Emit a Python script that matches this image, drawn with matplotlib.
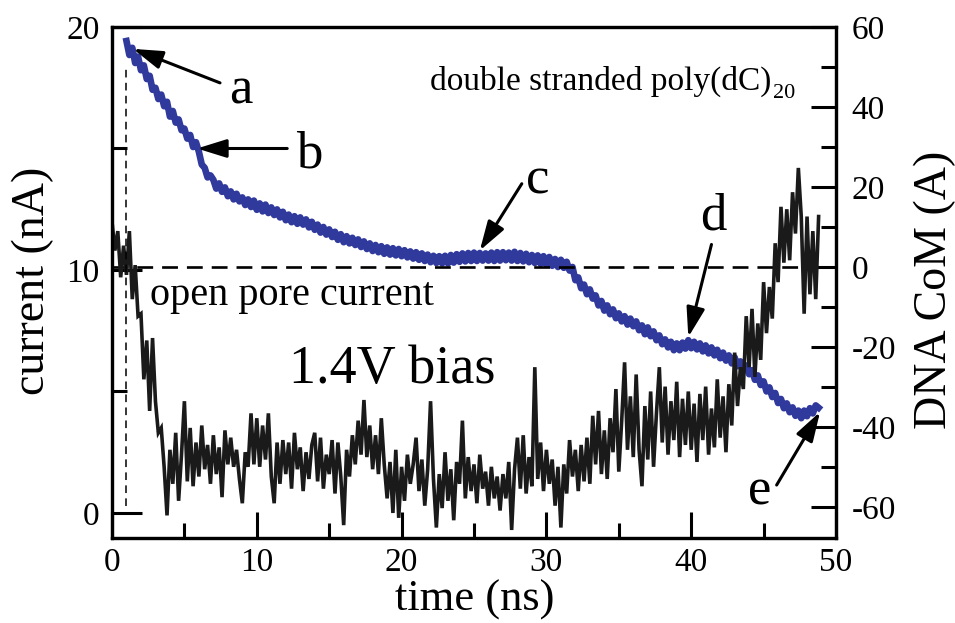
import matplotlib
matplotlib.use("Agg")
import matplotlib.pyplot as plt
import numpy as np

plt.rcParams['font.family'] = ['Liberation Serif', 'DejaVu Serif']

# ---------------- data ----------------
# time grid of the traces (ns)
t_current_start, t_step = 0.0, 0.2
t_com_start = 1.0

# ionic current (nA), left axis, t = 0.0 ... 48.8 step 0.2
current_nA = [
    12.0, 10.8, 11.6, 9.7, 11.0,
    9.8, 11.6, 8.8, 10.2, 8.1,
    8.2, 5.5, 7.1, 4.2, 7.2,
    4.6, 3.3, 3.5, 1.9, -0.1,
    2.6, 1.2, 3.3, 0.5, 2.4,
    4.6, 1.3, 3.5, 1.1, 2.9,
    1.5, 3.6, 1.8, 2.8, 1.2,
    3.2, 1.6, 2.7, 0.65, 3.4,
    2.0, 3.1, 1.9, 2.6, 1.4,
    0.4, 2.5, 1.9, 4.1, 2.0,
    3.9, 1.9, 3.6, 2.2, 4.1,
    1.5, 0.4, 2.9, 1.2, 3.0,
    1.6, 2.9, 1.0, 3.3, 1.8,
    2.7, 0.9, 2.5, 1.4, 2.8,
    3.3, 1.3, 3.1, 1.0, 2.4,
    1.6, 3.0, 0.8, 2.9, 1.5,
    -0.5, 2.6, 1.5, 3.2, 2.0,
    3.8, 2.4, 4.65, 2.3, 3.6,
    1.8, 3.2, 1.6, 3.9, 2.0,
    0.6, 2.1, 0.0, 2.6, -0.2,
    1.9, 0.5, 2.4, 1.2, 2.0,
    3.1, 0.9, 2.2, 0.3, 1.8,
    4.6, 1.4, -0.6, 1.6, 0.2,
    2.5, 0.5, 1.8, -0.3, 2.1,
    1.2, 3.8, 0.6, 2.3, 0.9,
    2.0, 0.4, 2.4, 1.0, 1.7,
    0.3, 1.9, 0.6, 1.5, 0.1,
    1.6, 0.6, 2.1, -0.7, 1.8,
    3.1, 1.0, 3.2, 0.8, 2.3,
    1.1, 6.0, 1.4, 2.9, 0.9,
    2.6, 1.2, 2.2, 0.3, 1.9,
    -0.6, 2.0, 0.8, 3.0, 1.5,
    2.6, 0.9, 2.8, 1.3, 3.1,
    1.2, 4.0, 2.0, 4.2, 1.6,
    3.4, 1.4, 3.9, 2.5, 5.1,
    1.7, 3.8, 6.2, 2.6, 4.8,
    2.3, 5.7, 2.6, 1.1, 4.4,
    2.2, 5.0, 1.9, 4.1, 6.0,
    2.9, 5.2, 2.4, 4.6, 3.0,
    5.4, 2.3, 4.7, 2.8, 5.0,
    2.6, 4.5, 2.1, 4.9, 3.0,
    5.2, 2.4, 4.3, 2.7, 5.5,
    3.1, 4.8, 2.5, 5.3, 3.6,
    6.6, 4.4, 6.0, 5.1, 8.1,
    6.0, 8.4, 5.6, 7.8, 6.3,
    9.5, 7.4, 9.3, 8.0, 11.1,
    9.5, 12.6, 10.3, 12.5, 10.4,
    13.2, 11.5, 14.2, 12.2, 8.2,
    12.2, 9.0, 11.6, 8.8, 12.2,
]

# DNA centre of mass (A), right axis, t = 1.0 ... 48.8 step 0.2
dna_com_A = [
    56.5, 53.0, 54.8, 51.0, 52.6, 49.2, 50.4, 47.0, 47.8, 44.3,
    44.8, 42.0, 43.1, 40.2, 41.3, 37.6, 39.0, 36.1, 36.9, 34.2,
    34.6, 32.1, 33.0, 30.0, 31.2, 28.8, 25.6, 24.8, 22.4, 22.9,
    21.8, 19.6, 20.9, 18.8, 19.9, 17.7, 18.9, 16.9, 18.3, 16.4,
    17.4, 15.5, 16.9, 15.0, 16.6, 14.3, 15.9, 13.9, 15.6, 13.5,
    14.9, 13.0, 14.4, 12.4, 13.8, 11.7, 13.1, 11.2, 12.7, 10.8,
    12.4, 10.6, 11.9, 9.9, 11.3, 9.3, 10.6, 8.6, 10.0, 8.1,
    9.4, 7.5, 8.8, 6.8, 8.2, 6.2, 7.7, 5.9, 7.3, 5.5,
    6.9, 5.0, 6.4, 4.5, 5.9, 4.0, 5.5, 3.7, 5.2, 3.3,
    4.9, 3.1, 4.7, 2.9, 4.5, 2.7, 4.2, 2.4, 3.9, 2.1,
    3.7, 1.8, 3.4, 1.5, 3.1, 1.2, 2.8, 1.0, 2.7, 0.9,
    2.8, 0.9, 3.0, 1.1, 3.2, 1.3, 3.4, 1.4, 3.5, 1.5,
    3.6, 1.5, 3.5, 1.6, 3.4, 1.6, 3.6, 1.5, 3.7, 1.6,
    3.7, 1.7, 3.6, 1.6, 3.8, 1.5, 3.5, 1.4, 3.3, 1.2,
    3.0, 1.0, 2.9, 0.8, 2.7, 0.6, 2.5, 0.3, 2.0, 0.0,
    1.8, -0.2, 1.3, -0.9, 0.0, -3.3, -2.6, -5.3, -4.4, -6.8,
    -5.6, -7.9, -7.1, -9.6, -8.5, -10.9, -9.6, -11.8, -10.6, -12.8,
    -11.6, -13.6, -12.3, -14.4, -12.9, -14.8, -13.6, -15.8, -14.6, -16.8,
    -15.1, -17.3, -16.1, -18.3, -17.1, -19.3, -18.1, -20.1, -18.7, -20.8,
    -19.1, -20.8, -18.9, -20.4, -18.3, -20.3, -18.7, -20.6, -19.1, -21.1,
    -19.6, -21.6, -20.1, -22.1, -20.7, -22.8, -21.4, -23.4, -22.1, -24.1,
    -22.6, -24.8, -23.6, -25.8, -24.6, -26.8, -25.8, -28.2, -27.1, -29.5,
    -28.6, -31.1, -30.1, -32.5, -31.5, -34.0, -33.0, -35.3, -34.1, -36.3,
    -35.1, -37.2, -35.9, -37.8, -35.9, -37.3, -35.3, -36.6, -34.6, -35.2,
]

open_pore_current = 10.0   # nA  (== 0 A on the right axis)
entry_time = 1.0           # ns, vertical dashed marker
entry_marker_range = (0.3, 18.4)

x_ticks = [0, 10, 20, 30, 40, 50]
left_ticks = [0, 10, 20]
right_ticks = [-60, -40, -20, 0, 20, 40, 60]

t_current = t_current_start + t_step * np.arange(len(current_nA))
t_com = t_com_start + t_step * np.arange(len(dna_com_A))

# ---------------- figure ----------------
W, H = 955, 623
fig = plt.figure(figsize=(W / 100, H / 100), dpi=100)
L, R, T, B = 112, 836, 27, 538
ax = fig.add_axes([L / W, 1 - B / H, (R - L) / W, (B - T) / H])
ax2 = ax.twinx()

blue = '#30399c'
ax2.plot(t_com, dna_com_A, color=blue, lw=4.8, solid_joinstyle='round')
ax2.axhline(0, color='black', lw=1.9, linestyle=(0, (6, 3.4)))
ax.plot(t_current, current_nA, color='#1a1a1a', lw=2.6, solid_joinstyle='miter')
ax.plot([entry_time, entry_time], entry_marker_range, color='black', lw=1.1,
        linestyle=(0, (5, 3.5)))

ax.set_zorder(ax2.get_zorder() + 1)
ax.patch.set_visible(False)

ax.set_xlim(0, 50)
ax.set_ylim(-1.03, 20.0)
ax2.set_ylim(-67.75, 60.0)

ax.set_xticks(x_ticks)
ax.set_xticks([5, 15, 25, 35, 45], minor=True)
ax.set_yticks(left_ticks)
ax.set_yticks([5, 15], minor=True)
ax2.set_yticks(right_ticks)
ax2.set_yticks([-50, -30, -10, 10, 30, 50], minor=True)

for a in (ax, ax2):
    for s in a.spines.values():
        s.set_linewidth(2.3)

ax.tick_params(axis='x', which='major', direction='in', length=19, width=2.2,
               labelsize=24, pad=7, top=False)
ax.tick_params(axis='x', which='minor', direction='in', length=11, width=2.2, top=False)
ax.tick_params(axis='y', which='major', direction='in', length=21.5, width=2.2,
               labelsize=24, pad=9, right=False)
ax.tick_params(axis='y', which='minor', direction='in', length=11, width=2.2, right=False)
ax2.tick_params(axis='y', which='major', direction='in', length=18, width=2.2,
                labelsize=24, pad=11, left=False)
ax2.tick_params(axis='y', which='minor', direction='in', length=11, width=2.2, left=False)

ax.set_xticklabels([str(v) for v in x_ticks])
ax.set_yticklabels([str(v) for v in left_ticks])
ax2.set_yticklabels([str(v) for v in right_ticks])


def fx(px):
    return px / W


def fy(py):
    return 1 - py / H


# axis labels
fig.text(fx(475), fy(600), 'time (ns)', fontsize=32, ha='center', va='center')
fig.text(fx(33), fy(281), 'current (nA)', fontsize=33, ha='center', va='center',
         rotation=90)
fig.text(fx(935), fy(290), 'DNA CoM (A)', fontsize=33, ha='center', va='center',
         rotation=90)

# in-plot texts
fig.text(fx(771), fy(90), 'double stranded poly(dC)', fontsize=24, ha='right',
         va='baseline')
fig.text(fx(773), fy(98), '20', fontsize=16, ha='left', va='baseline')
fig.text(fx(150), fy(305), 'open pore current', fontsize=29, ha='left', va='baseline')
fig.text(fx(289), fy(383), '1.4V bias', fontsize=39, ha='left', va='baseline')

# annotation arrows: (label, label position, arrow tail, arrow tip) in (time, current)
annotations = [
    ('a', (8.9, 17.4), (7.46, 17.7), (1.45, 19.1)),
    ('b', (13.6, 14.75), (12.1, 15.0), (5.87, 15.0)),
    ('c', (29.4, 13.7), (28.3, 13.55), (25.4, 10.8)),
    ('d', (41.5, 12.2), (41.4, 11.05), (39.8, 7.24)),
    ('e', (44.75, 0.9), (45.9, 1.15), (48.9, 4.16)),
]
for lab, tpos, tail, tip in annotations:
    ax.annotate('', xy=tip, xytext=tail,
                arrowprops=dict(arrowstyle='-|>,head_length=0.9,head_width=0.28',
                                mutation_scale=20, lw=2.2, color='black',
                                shrinkA=0, shrinkB=0))
    ax.text(tpos[0], tpos[1], lab, fontsize=38, ha='center', va='center')

fig.savefig('out.png', dpi=100)
